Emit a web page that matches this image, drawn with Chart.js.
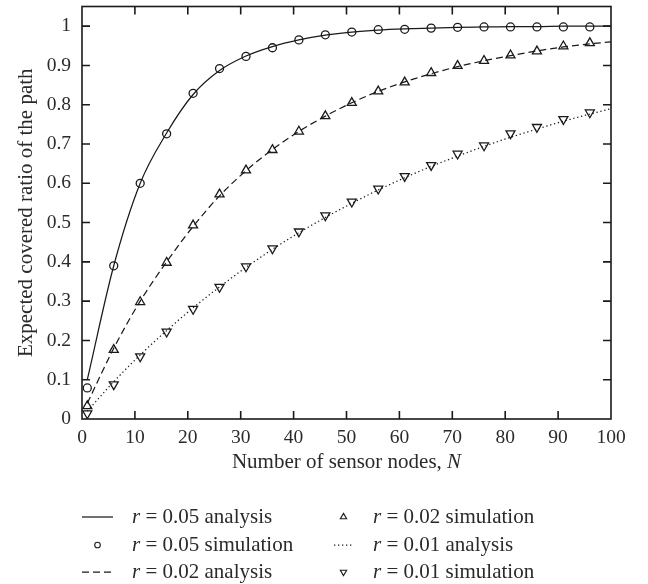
<!DOCTYPE html>
<html>
<head>
<meta charset="utf-8">
<script src="https://cdn.jsdelivr.net/npm/chart.js@4.4.0/dist/chart.umd.min.js"></script>
<style>
  html, body { margin: 0; padding: 0; background: #fff; }
  canvas { display: block; }
</style>
</head>
<body>
<canvas id="chart" width="648" height="584"></canvas>
<script>
// number of sensor nodes where the simulation points were taken
const simN = [1, 6, 11, 16, 21, 26, 31, 36, 41, 46, 51, 56, 61, 66, 71, 76, 81, 86, 91, 96];
// points
const analysisN = [1, 6, 11, 16, 21, 26, 31, 36, 41, 46, 51, 56, 61, 66, 71, 76, 81, 86, 91, 96, 100];

const analysis005 = [0.100, 0.390, 0.600, 0.728, 0.826, 0.887, 0.924, 0.948, 0.965, 0.977, 0.985, 0.990, 0.993, 0.995, 0.997, 0.998, 0.999, 0.999, 1.000, 1.000, 1.000];
const sim005 = [0.079, 0.390, 0.600, 0.726, 0.829, 0.892, 0.923, 0.945, 0.965, 0.978, 0.985, 0.991, 0.992, 0.995, 0.997, 0.998, 0.998, 0.998, 0.998, 0.998];

const analysis002 = [0.040, 0.180, 0.300, 0.400, 0.490, 0.568, 0.632, 0.686, 0.732, 0.771, 0.805, 0.834, 0.858, 0.879, 0.897, 0.912, 0.925, 0.937, 0.947, 0.955, 0.960];
const sim002 = [0.033, 0.176, 0.298, 0.398, 0.493, 0.572, 0.633, 0.685, 0.732, 0.771, 0.805, 0.834, 0.857, 0.881, 0.899, 0.912, 0.926, 0.936, 0.949, 0.957];

const analysis001 = [0.020, 0.095, 0.163, 0.225, 0.283, 0.336, 0.386, 0.432, 0.474, 0.513, 0.549, 0.583, 0.614, 0.643, 0.669, 0.694, 0.717, 0.738, 0.758, 0.776, 0.790];
const sim001 = [0.014, 0.088, 0.159, 0.222, 0.280, 0.336, 0.388, 0.434, 0.477, 0.518, 0.553, 0.586, 0.618, 0.646, 0.675, 0.696, 0.727, 0.743, 0.763, 0.780];

const xTickValues = [0, 10, 20, 30, 40, 50, 60, 70, 80, 90, 100];
const yTickValues = [0, 0.1, 0.2, 0.3, 0.4, 0.5, 0.6, 0.7, 0.8, 0.9, 1];

const labels = [
    'r = 0.05 analysis', 'r = 0.05 simulation', 'r = 0.02 analysis',
    'r = 0.02 simulation', 'r = 0.01 analysis', 'r = 0.01 simulation'
];
const xTitle = ['Number of sensor nodes, ', 'N'];
const yTitle = 'Expected covered ratio of the path';

const INK = '#1a1a1a';
const TEXT = '#2a2a2a';
const FONT = "'Liberation Serif', 'DejaVu Serif', serif";
const TEXT_SIZE = 21;

function toPoints(xs, ys) {
    return xs.map((x, i) => ({ x: x, y: ys[i] }));
}

function curve(label, xs, ys, dash) {
    return {
        label: label,
        data: toPoints(xs, ys),
        borderColor: INK,
        borderWidth: 1.25,
        borderDash: dash,
        pointRadius: 0,
        fill: false,
        cubicInterpolationMode: 'monotone'
    };
}

function markers(label, xs, ys, style, radius, rotation) {
    return {
        label: label,
        data: toPoints(xs, ys),
        showLine: false,
        pointStyle: style,
        pointRadius: radius,
        pointRotation: rotation,
        pointBorderColor: INK,
        pointBorderWidth: 1.3,
        pointBackgroundColor: 'rgba(0,0,0,0)',
        legendRadius: radius * 0.7
    };
}

// mixed upright / italic text, left to right
function drawRuns(ctx, runs, x, y) {
    runs.forEach(r => {
        ctx.font = (r.italic ? 'italic ' : '') + TEXT_SIZE + 'px ' + FONT;
        ctx.fillText(r.text, x, y);
        x += ctx.measureText(r.text).width;
    });
}

function runsWidth(ctx, runs) {
    return runs.reduce((w, r) => {
        ctx.font = (r.italic ? 'italic ' : '') + TEXT_SIZE + 'px ' + FONT;
        return w + ctx.measureText(r.text).width;
    }, 0);
}

// box around the plot with inward ticks on all four sides
const framePlugin = {
    id: 'frame',
    afterDatasetsDraw(chart) {
        const { ctx, chartArea: a, scales: { x, y } } = chart;
        const len = 8;
        ctx.save();
        ctx.strokeStyle = INK;
        ctx.lineWidth = 1.6;
        ctx.strokeRect(a.left, a.top, a.right - a.left, a.bottom - a.top);
        ctx.beginPath();
        x.ticks.forEach(t => {
            const px = x.getPixelForValue(t.value);
            if (px <= a.left + 1 || px >= a.right - 1) return;
            ctx.moveTo(px, a.bottom); ctx.lineTo(px, a.bottom - len);
            ctx.moveTo(px, a.top); ctx.lineTo(px, a.top + len);
        });
        y.ticks.forEach(t => {
            const py = y.getPixelForValue(t.value);
            if (py >= a.bottom - 1 || py <= a.top + 1) return;
            ctx.moveTo(a.left, py); ctx.lineTo(a.left + len, py);
            ctx.moveTo(a.right, py); ctx.lineTo(a.right - len, py);
        });
        ctx.stroke();
        ctx.restore();
    }
};

// x title with an italic N, and the two-column legend under it
const textPlugin = {
    id: 'texts',
    afterDraw(chart) {
        const { ctx, chartArea: a } = chart;
        ctx.save();
        ctx.fillStyle = TEXT;
        ctx.textBaseline = 'middle';
        const titleRuns = [{ text: xTitle[0] }, { text: xTitle[1], italic: true }];
        const tw = runsWidth(ctx, titleRuns);
        drawRuns(ctx, titleRuns, (a.left + a.right) / 2 - tw / 2, a.bottom + 43);
        ctx.restore();

        const cols = [
            { x0: 82, x1: 113, tx: 132 },
            { x0: 334, x1: 353, tx: 373 }
        ];
        const rows = [517, 545, 572];
        chart.data.datasets.forEach((ds, i) => {
            const col = cols[Math.floor(i / 3)];
            const y = rows[i % 3];
            ctx.save();
            ctx.strokeStyle = INK;
            if (ds.showLine === false) {
                ctx.lineWidth = 1.1;
                ctx.fillStyle = 'rgba(0,0,0,0)';
                Chart.helpers.drawPoint(ctx, {
                    pointStyle: ds.pointStyle,
                    rotation: ds.pointRotation,
                    radius: ds.legendRadius,
                    borderWidth: 1.1
                }, (col.x0 + col.x1) / 2, y);
            } else {
                ctx.lineWidth = ds.borderWidth;
                ctx.setLineDash(ds.borderDash);
                ctx.beginPath();
                ctx.moveTo(col.x0, y);
                ctx.lineTo(col.x1, y);
                ctx.stroke();
            }
            ctx.restore();

            // italic r, then the rest upright
            ctx.save();
            ctx.fillStyle = TEXT;
            ctx.textBaseline = 'middle';
            drawRuns(ctx, [
                { text: ds.label[0], italic: true },
                { text: ds.label.slice(1) }
            ], col.tx, y);
            ctx.restore();
        });
    }
};

const chart = new Chart(document.getElementById('chart'), {
    type: 'line',
    data: {
        datasets: [
            curve(labels[0], analysisN, analysis005, []),
            markers(labels[1], simN, sim005, 'circle', 4, 0),
            curve(labels[2], analysisN, analysis002, [7, 4]),
            markers(labels[3], simN, sim002, 'triangle', 5.2, 0),
            curve(labels[4], analysisN, analysis001, [1.3, 2.7]),
            markers(labels[5], simN, sim001, 'triangle', 5.2, 180)
        ]
    },
    options: {
        responsive: false,
        animation: false,
        layout: { padding: { left: 0, right: 37, top: 2, bottom: 105 } },
        plugins: {
            legend: { display: false },
            tooltip: { enabled: false }
        },
        scales: {
            x: {
                type: 'linear',
                min: 0,
                max: 100,
                grid: { display: false, drawTicks: false },
                border: { display: false },
                afterBuildTicks: s => { s.ticks = xTickValues.map(v => ({ value: v })); },
                afterFit: s => { s.height = 60; },
                ticks: {
                    padding: 7,
                    color: TEXT,
                    font: { family: FONT, size: 19.5 },
                    callback: v => String(v)
                },
                title: { display: false }
            },
            y: {
                type: 'linear',
                min: 0,
                max: 1.05,
                grid: { display: false, drawTicks: false },
                border: { display: false },
                afterBuildTicks: s => { s.ticks = yTickValues.map(v => ({ value: v })); },
                afterFit: s => { s.width = 82; s.paddingTop = 0; s.paddingBottom = 0; },
                ticks: {
                    padding: 11,
                    color: TEXT,
                    font: { family: FONT, size: 19.5 },
                    callback: v => String(v)
                },
                title: {
                    display: true,
                    text: yTitle,
                    color: TEXT,
                    font: { family: FONT, size: TEXT_SIZE },
                    padding: { top: 14, bottom: 0 }
                }
            }
        }
    },
    plugins: [framePlugin, textPlugin]
});
</script>
</body>
</html>
